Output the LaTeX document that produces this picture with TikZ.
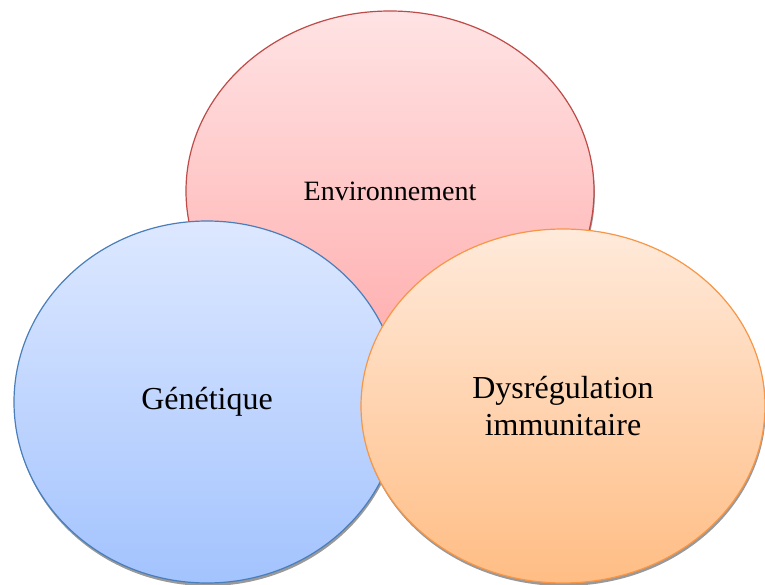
\documentclass[tikz,border=0pt]{standalone}
\usepackage{fontspec}
\setmainfont{Liberation Serif}
\usetikzlibrary{shapes.geometric, shadows}
\definecolor{RoseEdge}   {HTML}{BE4B48}
\definecolor{RoseTop}    {HTML}{FFE3E4}
\definecolor{RoseBottom} {HTML}{FFABAB}
\definecolor{SkyEdge}    {HTML}{4A7EBB}
\definecolor{SkyTop}     {HTML}{DDE8FF}
\definecolor{SkyBottom}  {HTML}{A3C3FE}
\definecolor{PeachEdge}  {HTML}{F79646}
\definecolor{PeachTop}   {HTML}{FFEADB}
\definecolor{PeachBottom}{HTML}{FFBD84}

\begin{document}
\begin{tikzpicture}[
		x=1pt, y=-1pt,
		bubble/.style={ellipse, inner sep=0pt, line width=1.2pt, align=center,
			drop shadow={shadow xshift=0.8pt, shadow yshift=-3pt, fill=black!40, opacity=1}},
		rose/.style={bubble, draw=RoseEdge, top color=RoseTop, bottom color=RoseBottom,
			minimum width=408pt, minimum height=360pt,
			font=\fontsize{28}{32}\selectfont},
		sky/.style={bubble, draw=SkyEdge, top color=SkyTop, bottom color=SkyBottom,
			minimum width=386pt, minimum height=362pt,
			font=\fontsize{32}{37}\selectfont},
		peach/.style={bubble, draw=PeachEdge, top color=PeachTop, bottom color=PeachBottom,
			minimum width=404pt, minimum height=354pt,
			font=\fontsize{32}{37}\selectfont},
		]
		\useasboundingbox (0,0) rectangle (765,585);
		% ── The three overlapping ellipses ───────────────────────────────────────────
		\node[rose]  (env)  at (390,191) {Environnement};
		\node[sky]   (gen)  at (207,402) {Génétique};
		\node[peach] (dys)  at (563,406) {Dysrégulation\\immunitaire};
	\end{tikzpicture}
\end{document}
